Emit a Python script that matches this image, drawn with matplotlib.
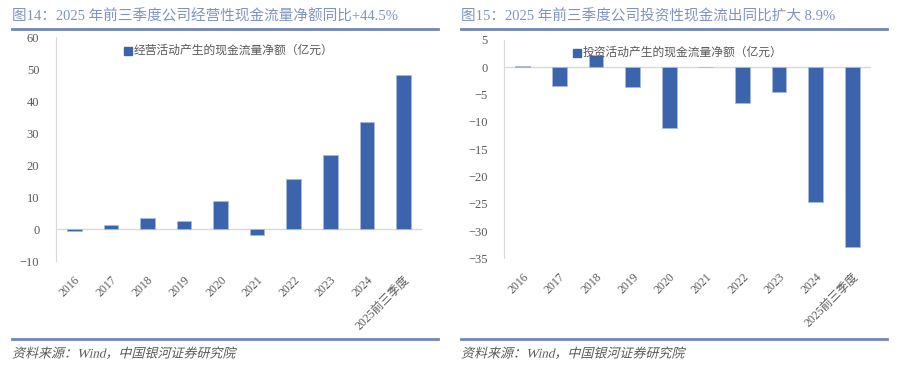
import matplotlib.pyplot as plt
import numpy as np
from matplotlib.font_manager import FontProperties
from matplotlib.lines import Line2D
from matplotlib.patches import PathPatch
from matplotlib.textpath import TextPath
from matplotlib.transforms import Affine2D

plt.rcParams['font.family'] = ['Liberation Serif', 'Noto Sans CJK SC', 'DejaVu Sans']

years = ['2016', '2017', '2018', '2019', '2020', '2021', '2022', '2023', '2024', '2025前三季度']
operating_cf = [-0.5, 1.35, 3.6, 2.5, 8.85, -1.8, 15.7, 23.1, 33.4, 48.3]
investing_cf = [0.25, -3.4, 2.2, -3.7, -11.05, 0.0, -6.6, -4.6, -24.6, -32.9]

title_left = '图14：2025 年前三季度公司经营性现金流量净额同比+44.5%'
title_right = '图15：2025 年前三季度公司投资性现金流出同比扩大 8.9%'
legend_left = '经营活动产生的现金流量净额（亿元）'
legend_right = '投资活动产生的现金流量净额（亿元）'
source = '资料来源：Wind，中国银河证券研究院'

BAR = '#3B64AD'
GRAY = '#595959'
TITLE = '#7F93C3'
RULE = '#6F86BA'
W, H = 897, 377


def draw_panel(ax, values, ylim, yticks):
    x = np.arange(len(values))
    ax.bar(x, values, width=0.4, color=BAR, edgecolor='#A9BADB', linewidth=0.6)
    ax.set_xlim(-0.5, len(values) - 0.5)
    ax.set_ylim(ylim)
    ax.set_yticks(yticks)
    ax.set_xticks(x)
    ax.set_xticklabels(years, rotation=45, ha='right', rotation_mode='anchor')
    ax.axhline(0, color='#D9D9D9', linewidth=1, zorder=0)
    for s in ['top', 'right', 'bottom']:
        ax.spines[s].set_visible(False)
    ax.spines['left'].set_color('#D9D9D9')
    ax.tick_params(length=0, colors=GRAY, labelsize=8.5)
    ax.tick_params(axis='y', pad=12, labelsize=9)
    ax.tick_params(axis='x', pad=9)


def legend_entry(x, y, text):
    # hand-placed legend: square marker + label, in pixel coords
    fig.add_artist(Line2D([x / W], [1 - y / H], marker='s', linestyle='none',
                          color=BAR, markersize=6))
    fig.text((x + 6) / W, 1 - y / H, text, color=GRAY, fontsize=8.5, va='center')


def oblique_text(x, y, text, size):
    # CJK fonts have no italic, so skew the glyph outlines by hand
    prop = FontProperties(family=['Liberation Serif', 'Noto Sans CJK SC'])
    path = TextPath((0, 0), text, size=size, prop=prop)
    tr = Affine2D().skew_deg(14, 0).translate(x, H - y)
    fig.add_artist(PathPatch(path, transform=tr, facecolor=GRAY, edgecolor='none'))


fig = plt.figure(figsize=(W / 100, H / 100), dpi=100)

ax1 = fig.add_axes([56 / W, 1 - 261 / H, 365.7 / W, (261 - 37.3) / H])
draw_panel(ax1, operating_cf, (-10, 60), range(-10, 61, 10))
legend_entry(128, 50.7, legend_left)

ax2 = fig.add_axes([504.3 / W, 1 - 258.3 / H, 366.4 / W, (258.3 - 40) / H])
draw_panel(ax2, investing_cf, (-35, 5), range(-35, 6, 5))
legend_entry(577, 53, legend_right)

for x0, x1, title in [(12, 438, title_left), (461, 887, title_right)]:
    fig.text(x0 / W, 1 - 16 / H, title, color=TITLE, fontsize=10.5, va='center')
    fig.add_artist(Line2D([x0 / W, x1 / W], [1 - 29 / H] * 2, color=RULE, linewidth=2))
    fig.add_artist(Line2D([x0 / W, x1 / W], [1 - 339 / H] * 2, color=RULE, linewidth=2))
    oblique_text(x0, 357.5, source, 13)

fig.savefig('out.png', dpi=100)
